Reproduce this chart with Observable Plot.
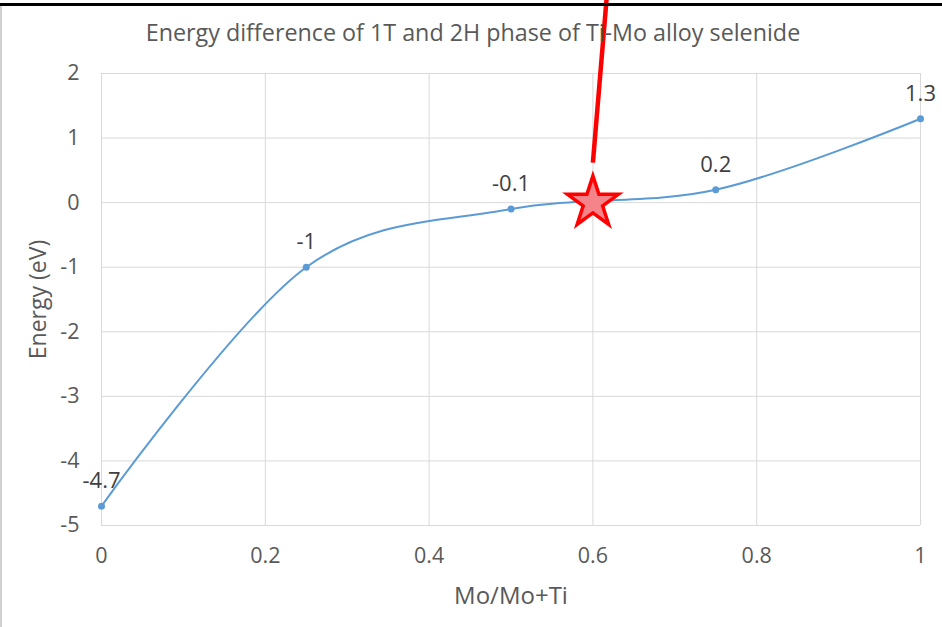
<!DOCTYPE html>
<html><head><meta charset="utf-8">
<script src="https://cdn.jsdelivr.net/npm/d3@7"></script>
<script src="https://cdn.jsdelivr.net/npm/@observablehq/plot@0.6"></script>
<style>
html,body{margin:0;padding:0;background:#fff;}
#wrap{position:relative;width:942px;height:627px;overflow:hidden;}
#topbar{position:absolute;left:0;top:3px;width:942px;height:3px;background:#000;}
#leftbar{position:absolute;left:0;top:6px;width:2px;height:621px;background:#d0d0d0;}
</style>
</head><body>
<div id="wrap"><div id="chart"></div><div id="topbar"></div><div id="leftbar"></div></div>
<script>
const ratio = [0, 0.25, 0.5, 0.75, 1];
const energy = [-4.7, -1, -0.1, 0.2, 1.3];
const labels = ["-4.7", "-1", "-0.1", "0.2", "1.3"];
const xTicks = [0, 0.2, 0.4, 0.6, 0.8, 1];
const yTicks = [-5, -4, -3, -2, -1, 0, 1, 2];
const starPoint = [{x: 0.6, y: 0}];
const pointer = [{x1: 0.6, y1: 0.62, x2: 0.617, y2: 3.2}];

const data = ratio.map((r, i) => ({x: r, y: energy[i], label: labels[i]}));
const font = "'Open Sans', Lato, sans-serif";

const chart = Plot.plot({
  width: 942, height: 627,
  marginLeft: 101, marginRight: 22, marginTop: 73, marginBottom: 102,
  style: {fontFamily: font, fontSize: "18px", color: "#595959", background: "#fff"},
  x: {domain: [0, 1], label: null},
  y: {domain: [-5, 2], label: null},
  marks: [
    Plot.gridX(xTicks, {stroke: "#d9d9d9", strokeOpacity: 1, strokeWidth: 1}),
    Plot.gridY(yTicks, {stroke: "#d9d9d9", strokeOpacity: 1, strokeWidth: 1}),
    Plot.axisX({ticks: xTicks, tickSize: 0, tickPadding: 22, fontSize: 21.5, fill: "#595959", tickFormat: d => String(d)}),
    Plot.axisY({ticks: yTicks, tickSize: 0, tickPadding: 22, fontSize: 21.5, fill: "#595959", tickFormat: d => d < 0 ? "-" + Math.abs(d) : String(d)}),
    Plot.line(data, {x: "x", y: "y", curve: "cardinal", stroke: "#5b9bd5", strokeWidth: 2}),
    Plot.dot(data, {x: "x", y: "y", r: 3.5, fill: "#5b9bd5", stroke: null}),
    Plot.text(data, {x: "x", y: "y", text: "label", dy: -25, fontSize: 22, fill: "#404040"}),
    Plot.link(pointer, {x1: "x1", y1: "y1", x2: "x2", y2: "y2", stroke: "#ff0000", strokeWidth: 4.5, clip: false}),
    Plot.dot(starPoint, {x: "x", y: "y", symbol: "star", r: 16, fill: "#f4848a", stroke: "#ff0000", strokeWidth: 3.5}),
    Plot.text(["Energy difference of 1T and 2H phase of Ti-Mo alloy selenide"], {frameAnchor: "top", dx: -38, dy: -40, fontSize: 23.3, fill: "#595959", lineAnchor: "middle", textAnchor: "middle"}),
    Plot.text(["Mo/Mo+Ti"], {frameAnchor: "bottom", dy: 71, fontSize: 24, fill: "#595959", lineAnchor: "middle", textAnchor: "middle"}),
    Plot.text(["Energy (eV)"], {frameAnchor: "left", dx: -63, rotate: -90, fontSize: 23, fill: "#595959", lineAnchor: "middle", textAnchor: "middle"})
  ]
});
document.getElementById("chart").appendChild(chart);
</script>
</body></html>
